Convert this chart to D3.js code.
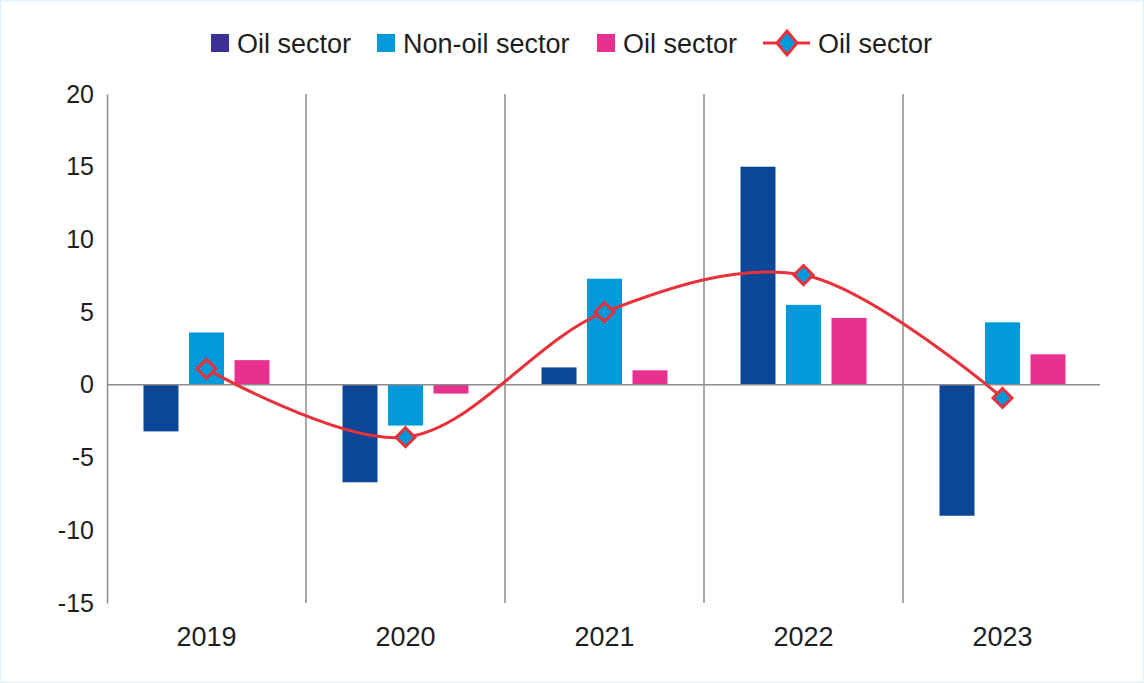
<!DOCTYPE html>
<html><head><meta charset="utf-8">
<script src="https://cdn.jsdelivr.net/npm/d3@7"></script>
<style>
html,body{margin:0;padding:0;background:#fff;}
svg{display:block;font-family:"Liberation Sans",Arial,sans-serif;}
</style></head>
<body><svg id="c" width="1144" height="683"></svg>
<script>
const years = ["2019","2020","2021","2022","2023"];
const oilSector = [-3.2, -6.7, 1.2, 15.0, -9.0];
const nonOilSector = [3.6, -2.8, 7.3, 5.5, 4.3];
const oilSector2 = [1.7, -0.6, 1.0, 4.6, 2.1];
const oilLine = [1.1, -3.6, 5.0, 7.55, -0.9];
const yTicks = [20, 15, 10, 5, 0, -5, -10, -15];
const seriesNames = ["Oil sector", "Non-oil sector", "Oil sector", "Oil sector"];

(function(){
const colors = {dark:"#0b4697", light:"#0099d9", pink:"#e8318f", red:"#e8313a", legendDark:"#3a3096", grid:"#8c8c8c"};

const svg = d3.select("#c");
svg.append("rect").attr("x",0.5).attr("y",0.5).attr("width",1143).attr("height",682)
  .attr("fill","#fff").attr("stroke","#e4f2fb").attr("stroke-width",2);

const pL = 107, pR = 1102, pT = 94, pB = 603;
const y = d3.scaleLinear().domain([-15, 20]).range([pB, pT]);
const x0 = d3.scaleBand().domain(years).range([pL, pR]).paddingInner(0).paddingOuter(0);
const bw = x0.bandwidth();
const x1 = d3.scaleBand().domain([0,1,2]).range([bw/2 - 63, bw/2 + 63]).paddingInner(0.231).paddingOuter(0);

// separators
const g = svg.append("g");
years.slice(1).forEach(yr => {
  g.append("line").attr("x1", x0(yr)).attr("x2", x0(yr)).attr("y1", pT).attr("y2", pB)
    .attr("stroke", colors.grid).attr("stroke-width", 1.5);
});

// y axis
const yAxis = d3.axisLeft(y).tickValues(yTicks).tickSize(0).tickPadding(13).tickFormat(d => String(d));
const ya = svg.append("g").attr("transform", `translate(${pL},0)`).call(yAxis);
ya.select(".domain").attr("stroke", colors.grid).attr("stroke-width", 1.5);
ya.selectAll("text").attr("font-size", 25).attr("fill", "#1e1e1e").attr("font-family", "'Liberation Sans', Arial, sans-serif");

// x axis labels
const xAxis = d3.axisBottom(x0).tickSize(0).tickPadding(24);
const xa = svg.append("g").attr("transform", `translate(0,${pB})`).call(xAxis);
xa.select(".domain").remove();
xa.selectAll("text").attr("font-size", 27).attr("fill", "#1e1e1e").attr("font-family", "'Liberation Sans', Arial, sans-serif");

// bars
const seriesData = [oilSector, nonOilSector, oilSector2];
const barColors = [colors.dark, colors.light, colors.pink];
seriesData.forEach((arr, si) => {
  svg.append("g").selectAll("rect").data(arr).join("rect")
    .attr("x", (d,i) => x0(years[i]) + x1(si))
    .attr("width", x1.bandwidth())
    .attr("y", d => y(Math.max(0,d)))
    .attr("height", d => Math.abs(y(d) - y(0)))
    .attr("fill", barColors[si]);
});

// zero line
svg.append("line").attr("x1", pL).attr("x2", pR - 2).attr("y1", y(0)).attr("y2", y(0))
  .attr("stroke", colors.grid).attr("stroke-width", 1.5);

// line
const cx = i => x0(years[i]) + bw/2;
const line = d3.line().x((d,i) => cx(i)).y(d => y(d)).curve(d3.curveCatmullRom.alpha(0.5));
svg.append("path").datum(oilLine).attr("d", line).attr("fill","none")
  .attr("stroke", colors.red).attr("stroke-width", 3);
const dsize = 9.5;
const diamond = (cxv, cyv, hw, hh) => `M${cxv},${cyv-hh}L${cxv+hw},${cyv}L${cxv},${cyv+hh}L${cxv-hw},${cyv}Z`;
svg.append("g").selectAll("path").data(oilLine).join("path")
  .attr("d", (d,i) => diamond(cx(i), y(d), dsize, dsize))
  .attr("fill", colors.light).attr("stroke", colors.red).attr("stroke-width", 3);

// legend
const leg = svg.append("g");
const legFont = 27;
const swatchItems = [
  {x:211, color:colors.legendDark, name:seriesNames[0]},
  {x:377, color:colors.light, name:seriesNames[1]},
  {x:597, color:colors.pink, name:seriesNames[2]}
];
swatchItems.forEach(it => {
  leg.append("rect").attr("x", it.x).attr("y", 34).attr("width", 18).attr("height", 18).attr("fill", it.color);
  leg.append("text").attr("x", it.x + 26).attr("y", 53).attr("font-size", legFont).attr("fill", "#1e1e1e").text(it.name);
});
leg.append("line").attr("x1", 763).attr("x2", 810).attr("y1", 43).attr("y2", 43).attr("stroke", colors.red).attr("stroke-width", 3);
leg.append("path").attr("d", diamond(787, 43, 10, 12)).attr("fill", colors.light).attr("stroke", colors.red).attr("stroke-width", 3);
leg.append("text").attr("x", 818).attr("y", 53).attr("font-size", legFont).attr("fill", "#1e1e1e").text(seriesNames[3]);
})();
</script></body></html>
